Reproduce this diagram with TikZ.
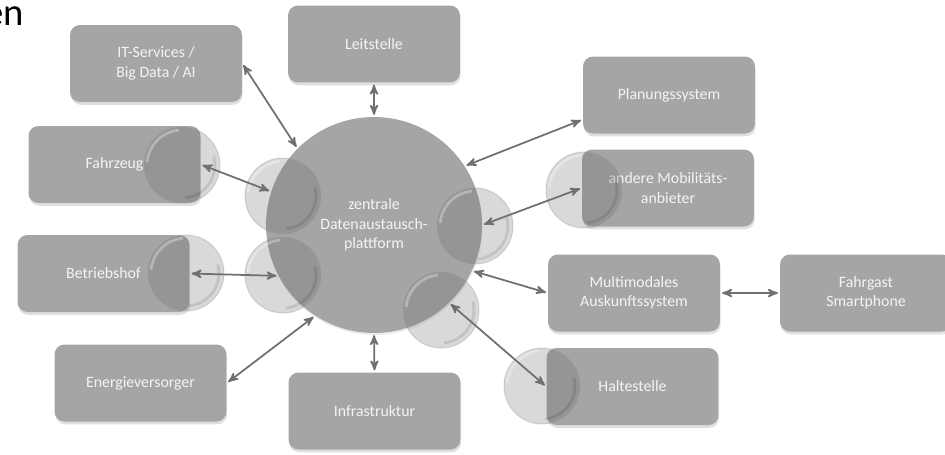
\documentclass[tikz,border=0pt]{standalone}
\usepackage{fontspec}
\setmainfont{Carlito}
\usetikzlibrary{arrows,shadows}
\definecolor{boxGray}{RGB}{165,165,165}
\definecolor{linkGray}{RGB}{112,112,112}
\definecolor{labelWhite}{RGB}{244,244,244}
\tikzset{
  %grey box
  nodeBox/.style = {rectangle, rounded corners=0.2cm, fill=boxGray,
    text=labelWhite, align=center, minimum width=3.44cm,
    minimum height=1.54cm, font=\fontsize{9}{11}\selectfont,
    drop shadow={opacity=0.25, shadow xshift=0.4pt, shadow yshift=-1.6pt}},
  %central platform
  nodeHub/.style = {circle, fill=boxGray, text=labelWhite, align=center,
    minimum size=4.32cm, inner sep=0pt, font=\fontsize{9}{11}\selectfont,
    drop shadow={opacity=0.15, shadow xshift=0.3pt, shadow yshift=-1.2pt}},
  %double arrow
  link/.style = {<->, >=stealth', draw=linkGray, line width=1pt,
    shorten <=1pt, shorten >=1pt},
  %glass bubble
  bubble/.style = {fill=black!60, fill opacity=0.25, draw=black!40,
    draw opacity=0.35, line width=0.6pt}
}
\begin{document}
\begin{tikzpicture}[x=0.02cm, y=-0.02cm]
\useasboundingbox (0,0) rectangle (945,454);
\node [anchor=base east, inner sep=0pt, font=\fontsize{22}{26}\selectfont] (title) at (24,25) {en};

\node [nodeHub] (hub) at (374,225) {zentrale\\Datenaustausch-\\plattform};

\node [nodeBox] (it)   at (156,63.5)  {IT-Services /\\Big Data / AI};
\node [nodeBox] (leit) at (374,44)    {Leitstelle};
\node [nodeBox] (plan) at (669,95)    {Planungssystem};
\node [nodeBox] (fz)   at (114.5,164.5) {Fahrzeug};
\node [nodeBox] (am)   at (668,188)   {andere Mobilitäts-\\anbieter};
\node [nodeBox] (bh)   at (103.5,273.5) {Betriebshof};
\node [nodeBox] (mm)   at (634,293)   {Multimodales\\Auskunftssystem};
\node [nodeBox] (fg)   at (866,293)   {Fahrgast\\Smartphone};
\node [nodeBox] (ev)   at (140.5,383) {Energieversorger};
\node [nodeBox] (hs)   at (632.5,386.5) {Haltestelle};
\node [nodeBox] (inf)  at (374.5,411) {Infrastruktur};

% glass bubbles
\foreach \x/\y in {182/165, 283/196, 283/275, 186/273, 475/226, 441/310, 584/190, 542/386}{
  \filldraw [bubble] (\x,\y) circle (0.76cm);
  \draw [white, opacity=0.3, line width=1.6pt] (\x,\y) ++(95:0.7cm) arc (95:175:0.7cm);
  \draw [black, opacity=0.1, line width=1.6pt] (\x,\y) ++(-85:0.66cm) arc (-85:15:0.66cm);
}

\draw [link] (it.east) -- (hub.135);
\draw [link] (leit.south) -- (hub.north);
\draw [link] ([yshift=-14pt]plan.west) -- (hub.33);
\draw [link] (fz.east) -- (hub.162);
\draw [link] (am.west) -- (hub.0);
\draw [link] (bh.east) -- (hub.208);
\draw [link] (mm.west) -- (hub.335);
\draw [link] (mm.east) -- (fg.west);
\draw [link] (hs.west) -- (hub.314);
\draw [link] (ev.east) -- (hub.237);
\draw [link] (inf.north) -- (hub.south);
\end{tikzpicture}
\end{document}
